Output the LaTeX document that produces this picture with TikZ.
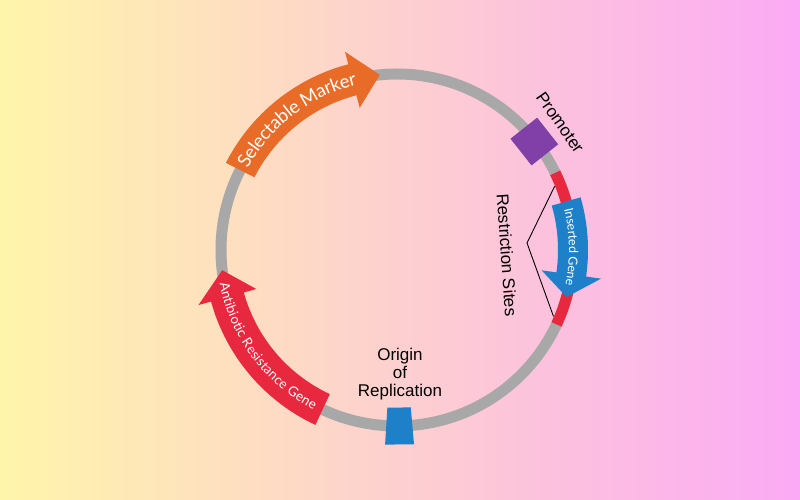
\documentclass[tikz,border=0pt]{standalone}
\usepackage{fontspec}
\setmainfont{Liberation Sans}
\newfontfamily\arrowfont{Lato}
\usetikzlibrary{decorations.text}
\definecolor{bgL}{RGB}{255,245,170}
\definecolor{bgM}{RGB}{255,205,205}
\definecolor{bgR}{RGB}{251,170,245}
\definecolor{ringgray}{RGB}{168,168,168}
\definecolor{sitered}{RGB}{232,40,62}
\definecolor{markorange}{RGB}{232,108,40}
\definecolor{geneblue}{RGB}{30,128,200}
\definecolor{promopurple}{RGB}{128,64,168}
\newcommand{\plarrow}[6]{%
  \fill[#1] (#2:{176-#5}) arc[start angle=#2, end angle=#3, radius={176-#5}]
    -- (#3:{176-#6}) -- (#4:176) -- (#3:{176+#6}) -- (#3:{176+#5})
    arc[start angle=#3, end angle=#2, radius={176+#5}] -- cycle;}
\tikzset{
  ring/.style={draw=ringgray, line width=11pt},
  siteseg/.style={draw=sitered, line width=11pt},
  lbl/.style={font=\fontsize{17}{19}\selectfont, text=black, inner sep=0pt},
  bracket/.style={draw=black, line width=0.9pt},
  promobox/.style={fill=promopurple, minimum width=34pt, minimum height=34pt, inner sep=0pt, draw=none}
}
\begin{document}
\begin{tikzpicture}[x=1pt,y=1pt]
\useasboundingbox (0,0) rectangle (800,500);
\shade[left color=bgL, middle color=bgM, right color=bgR] (0,0) rectangle (800,500);
\begin{scope}[shift={(397,250)}]
  % backbone
  \draw[ring] (0,0) circle[radius=176];
  \draw[siteseg] (26:176) arc[start angle=26, end angle=-25, radius=176];
  % arrows
  \plarrow{markorange}{153}{104.7}{95.6}{16}{29}
  \plarrow{geneblue}{16}{-8}{-15.5}{15}{30}
  \plarrow{sitered}{245}{195.5}{186.6}{17}{30}
  % texts on arrows
  \path[decorate, decoration={text along path, text align=center, raise=-6pt,
     text={|\arrowfont\fontsize{18.5}{20}\selectfont\color{white}|Selectable Marker}}]
     (153:176) arc[start angle=153, end angle=102, radius=176];
  \path[decorate, decoration={text along path, text align=center, raise=-4pt,
     text={|\arrowfont\fontsize{12.5}{14}\selectfont\color{white}|Inserted Gene}}]
     (15:176) arc[start angle=15, end angle=-13, radius=176];
  \path[decorate, decoration={text along path, text align=center, raise=-4.5pt,
     text={|\arrowfont\fontsize{13.5}{15}\selectfont\color{white}|Antibiotic Resistance Gene}}]
     (188:176) arc[start angle=188, end angle=245, radius=176];
  % origin of replication
  \fill[geneblue] (266.5:158) -- (275:158) -- (275:195) -- (266.5:195) -- cycle;
  \node[lbl, align=center, font=\fontsize{17}{18}\selectfont] (ori) at (3,-124) {Origin\\of\\Replication};
  % promoter
  \node[promobox, rotate=38.3] (prom) at (38.3:175) {};
  \node[lbl, rotate=-55] (promlbl) at (38:207) {Promoter};
  % restriction sites
  \node[lbl, rotate=-86] (rslbl) at (110,-5) {Restriction Sites};
  \coordinate (rs1) at (22:170);
  \coordinate (rs2) at (-23:170);
  \coordinate (rsv) at (130,7);
  \draw[bracket] (rs1) -- (rsv) -- (rs2);
\end{scope}
\end{tikzpicture}
\end{document}
